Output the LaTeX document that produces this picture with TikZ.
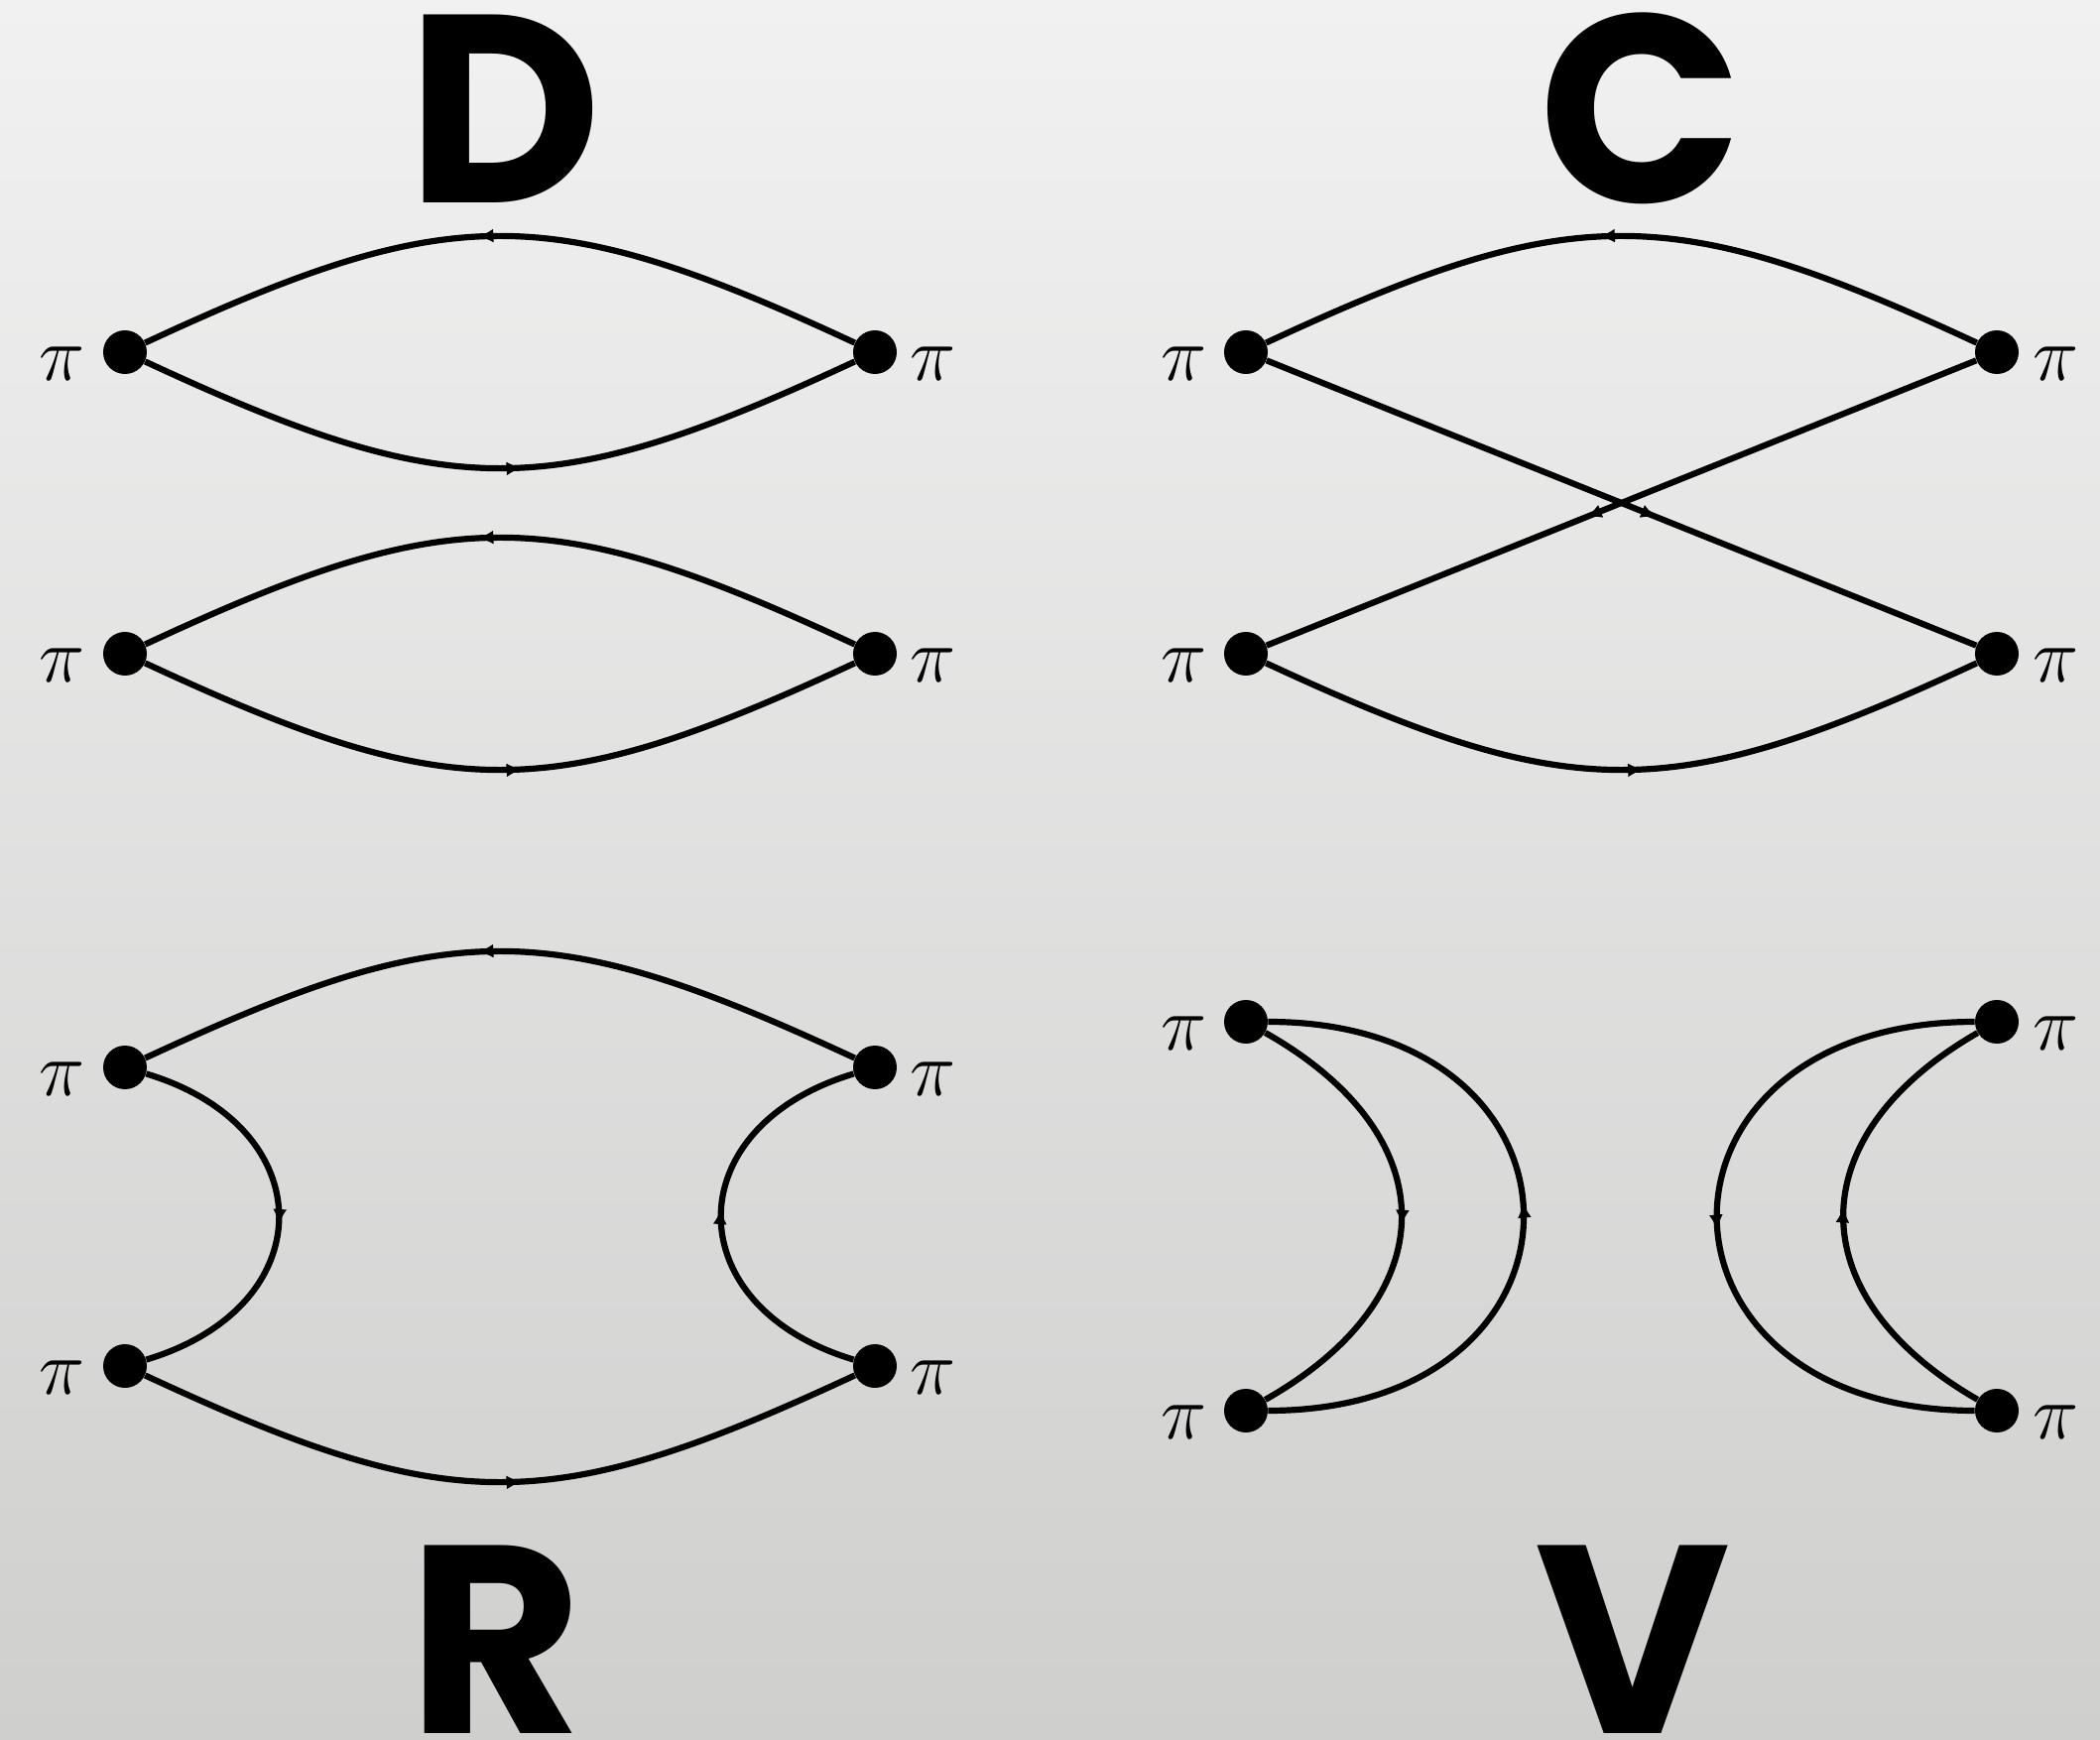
\RequirePackage{fix-cm}
\documentclass[tikz,border=0pt]{standalone}
\usepackage{fontspec}
\newfontfamily\labfont{Poppins}
\usetikzlibrary{arrows.meta,decorations.markings}
\definecolor{bgtop}{RGB}{241,241,241}
\definecolor{bgbot}{RGB}{207,207,206}
\begin{document}
\begin{tikzpicture}[x=0.5pt,y=-0.5pt,
  dot/.style={circle,fill=black,inner sep=0pt,minimum size=22pt},
  pilab/.style={inner sep=0pt,font=\fontsize{39}{39}\selectfont},
  letter/.style={inner sep=0pt,anchor=base,text depth=0pt,font=\labfont\bfseries\fontsize{135}{135}\selectfont},
  prop/.style={line width=3.1pt,draw=black,postaction={decorate},
    decoration={markings,mark=at position #1 with {\arrow{Latex[length=8pt,width=7pt]}}}},
  prop/.default=0.53]
\useasboundingbox (0,0) rectangle (2117,1754);
\shade[top color=bgtop,bottom color=bgbot] (0,0) rectangle (2117,1754);

% ---- D ----
\node[dot] (d1l) at (126,355) {};
\node[dot] (d1r) at (882,355) {};
\node[dot] (d2l) at (126,659) {};
\node[dot] (d2r) at (882,659) {};
\draw[prop] (d1r) .. controls +(-329,-153) and +(329,-153) .. (d1l);
\draw[prop] (d1l) .. controls +(329,153) and +(-329,153) .. (d1r);
\draw[prop] (d2r) .. controls +(-329,-153) and +(329,-153) .. (d2l);
\draw[prop] (d2l) .. controls +(329,153) and +(-329,153) .. (d2r);
\node[pilab] (pd1l) at (63,367) {$\pi$};
\node[pilab] (pd1r) at (941,367) {$\pi$};
\node[pilab] (pd2l) at (63,671) {$\pi$};
\node[pilab] (pd2r) at (941,671) {$\pi$};

% ---- C ----
\node[dot] (c1l) at (1256,355) {};
\node[dot] (c1r) at (2013,355) {};
\node[dot] (c2l) at (1256,659) {};
\node[dot] (c2r) at (2013,659) {};
\draw[prop] (c1r) .. controls +(-329,-153) and +(329,-153) .. (c1l);
\draw[prop] (c2l) .. controls +(329,153) and +(-329,153) .. (c2r);
\draw[prop=0.55] (c1l) -- (c2r);
\draw[prop=0.55] (c1r) -- (c2l);
\node[pilab] (pc1l) at (1194,367) {$\pi$};
\node[pilab] (pc1r) at (2073,367) {$\pi$};
\node[pilab] (pc2l) at (1194,671) {$\pi$};
\node[pilab] (pc2r) at (2073,671) {$\pi$};

% ---- R ----
\node[dot] (r1l) at (126,1076) {};
\node[dot] (r1r) at (882,1076) {};
\node[dot] (r2l) at (126,1377) {};
\node[dot] (r2r) at (882,1377) {};
\draw[prop] (r1r) .. controls +(-329,-153) and +(329,-153) .. (r1l);
\draw[prop] (r2l) .. controls +(329,153) and +(-329,153) .. (r2r);
\draw[prop=0.52] (r1l) .. controls +(200,60) and +(200,-60) .. (r2l);
\draw[prop=0.52] (r2r) .. controls +(-200,-60) and +(-200,60) .. (r1r);
\node[pilab] (pr1l) at (63,1088) {$\pi$};
\node[pilab] (pr1r) at (941,1088) {$\pi$};
\node[pilab] (pr2l) at (63,1389) {$\pi$};
\node[pilab] (pr2r) at (941,1389) {$\pi$};

% ---- V ----
\node[dot] (v1l) at (1256,1030) {};
\node[dot] (v1r) at (2013,1030) {};
\node[dot] (v2l) at (1256,1422) {};
\node[dot] (v2r) at (2013,1422) {};
\draw[prop=0.52] (v1l) .. controls +(203,115) and +(203,-115) .. (v2l);
\draw[prop=0.52] (v2l) .. controls +(366,0) and +(366,0) .. (v1l);
\draw[prop=0.52] (v1r) .. controls +(-369,0) and +(-369,0) .. (v2r);
\draw[prop=0.52] (v2r) .. controls +(-200,-115) and +(-200,115) .. (v1r);
\node[pilab] (pv1l) at (1194,1042) {$\pi$};
\node[pilab] (pv1r) at (2073,1042) {$\pi$};
\node[pilab] (pv2l) at (1194,1434) {$\pi$};
\node[pilab] (pv2r) at (2073,1434) {$\pi$};

% ---- letters ----
\node[letter] (LD) at (509,205) {D};
\node[letter] (LC) at (1654,205) {C};
\node[letter] (LR) at (500,1747) {R};
\node[letter] (LV) at (1646,1747) {V};
\end{tikzpicture}
\end{document}
